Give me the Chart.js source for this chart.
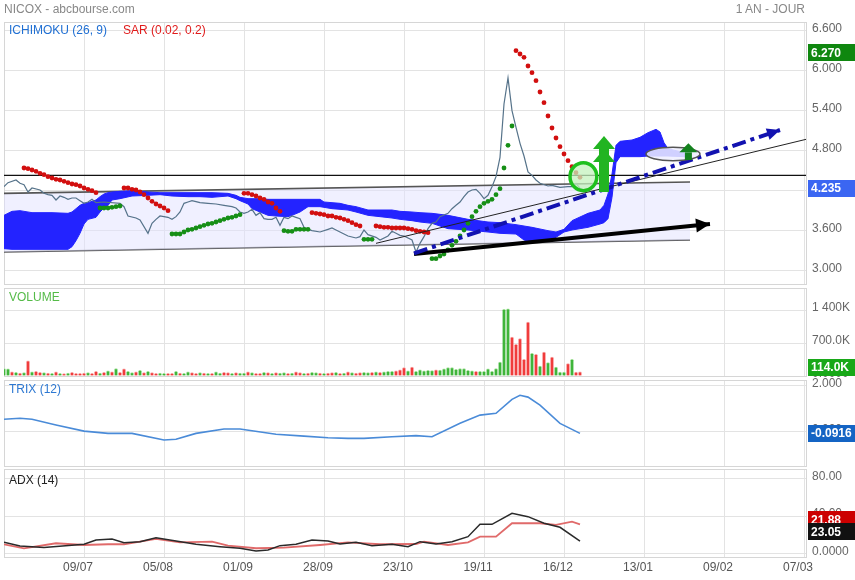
<!DOCTYPE html>
<html>
<head>
<meta charset="utf-8">
<script src="https://cdn.jsdelivr.net/npm/chart.js@4.4.1/dist/chart.umd.min.js"></script>
<style>
  html, body { margin: 0; padding: 0; background: #fff; }
  #wrap { position: relative; width: 855px; height: 580px; overflow: hidden;
    font-family: "Liberation Sans", Arial, sans-serif; font-size: 12px; }
  #wrap canvas { position: absolute; left: 0; top: 0; }
  .lbl { position: absolute; white-space: nowrap; line-height: 14px; }
</style>
</head>
<body>
<div id="wrap">
  <canvas id="c-main" width="855" height="580"></canvas>
  <canvas id="c-vol" width="855" height="580"></canvas>
  <canvas id="c-trix" width="855" height="580"></canvas>
  <canvas id="c-adx" width="855" height="580"></canvas>
  <div class="lbl" style="left:4px;top:2px;color:#888">NICOX - abcbourse.com</div>
  <div class="lbl" style="right:50px;top:2px;color:#888">1 AN - JOUR</div>
  <div class="lbl" style="left:9px;top:23px;color:#1f6fd3">ICHIMOKU (26, 9)</div>
  <div class="lbl" style="left:123px;top:23px;color:#e01b1b">SAR (0.02, 0.2)</div>
  <div class="lbl" style="left:9px;top:290px;color:#55bb48">VOLUME</div>
  <div class="lbl" style="left:9px;top:382px;color:#2d78d2">TRIX (12)</div>
  <div class="lbl" style="left:9px;top:473px;color:#222">ADX (14)</div>
</div>
<script>
// x axis = trading day index (0 = first day shown, 20 days between date ticks)
const xTickDays = [20, 40, 60, 80, 100, 120, 140, 160, 180, 200];
const xTickLabels = ['09/07', '05/08', '01/09', '28/09', '23/10', '19/11', '16/12', '13/01', '09/02', '07/03'];

// closing price (vertices of the line)
const priceDays = [0, 1, 3, 4, 5, 6, 7, 9, 10, 11, 12, 13, 14, 15, 16, 17, 18, 19, 20, 21, 22, 23, 25, 29, 30, 31, 33, 34, 36, 37,
  38, 39, 41, 42, 43, 44, 45, 46, 47, 49, 51, 53, 55, 57, 58, 59, 60, 61, 62, 63, 64, 65, 66, 67, 68, 69, 70, 71, 72, 73,
  74, 75, 76, 77, 79, 81, 82, 83, 85, 86, 88, 89, 90, 91, 93, 94, 96, 97, 98, 99, 100, 102, 103, 104, 105, 106, 107, 108, 109, 111,
  112, 113, 114, 115, 116, 117, 118, 119, 120, 121, 122, 123, 124, 125, 126, 127, 128, 129, 130, 131, 132, 133, 134, 136, 137, 139, 141, 142, 143, 144];
const priceVals = [4.26, 4.32, 4.36, 4.31, 4.29, 4.18, 4.24, 4.21, 4.16, 4.14, 4.13, 4.06, 4.12, 4.10, 4.07, 4.09, 4.09, 4.05, 4.01, 4.03, 4.07, 4.02, 4.03, 4.01, 3.96, 3.82, 3.79, 3.76, 3.56, 3.71,
  3.77, 3.82, 3.80, 3.77, 3.81, 3.88, 4.01, 4.03, 4.05, 4.02, 4.01, 4.00, 3.98, 3.96, 3.94, 3.88, 3.86, 3.88, 3.92, 3.83, 3.87, 3.78, 3.77, 3.77, 3.80, 3.68, 3.80, 3.78, 3.82, 3.80,
  3.78, 3.65, 3.62, 3.60, 3.58, 3.62, 3.64, 3.61, 3.55, 3.52, 3.49, 3.51, 3.61, 3.54, 3.50, 3.46, 3.52, 3.59, 3.56, 3.53, 3.52, 3.46, 3.28, 3.41, 3.51, 3.63, 3.71, 3.73, 3.81, 3.86,
  3.93, 3.98, 4.03, 4.11, 4.18, 4.21, 4.22, 4.16, 4.08, 4.13, 4.26, 4.41, 4.70, 5.50, 5.89, 5.40, 5.15, 4.91, 4.72, 4.48, 4.43, 4.36, 4.31, 4.27, 4.28, 4.25, 4.26, 4.26, 4.31, 4.235];

// parabolic SAR: runs of consecutive days, alternating above (red) / below (green)
const sarStarts = [5, 24, 30, 42, 60, 70, 77, 90, 93, 107, 128];
const sarRuns = [
  [4.54, 4.53, 4.51, 4.49, 4.46, 4.44, 4.41, 4.39, 4.37, 4.36, 4.34, 4.32, 4.30, 4.29, 4.27, 4.24, 4.22, 4.20, 4.17],
  [3.94, 3.94, 3.94, 3.95, 3.96, 3.97],
  [4.24, 4.24, 4.22, 4.21, 4.18, 4.14, 4.09, 4.04, 4.00, 3.97, 3.94, 3.90],
  [3.55, 3.55, 3.55, 3.58, 3.61, 3.62, 3.64, 3.66, 3.68, 3.70, 3.71, 3.73, 3.75, 3.77, 3.79, 3.80, 3.82, 3.84],
  [4.16, 4.16, 4.14, 4.12, 4.09, 4.07, 4.03, 4.01, 3.94, 3.89],
  [3.60, 3.59, 3.59, 3.62, 3.62, 3.62, 3.62],
  [3.87, 3.86, 3.85, 3.84, 3.82, 3.82, 3.80, 3.79, 3.77, 3.75, 3.72, 3.69, 3.67],
  [3.47, 3.47, 3.47],
  [3.67, 3.66, 3.65, 3.65, 3.64, 3.64, 3.64, 3.64, 3.63, 3.62, 3.60, 3.59, 3.58, 3.57],
  [3.18, 3.18, 3.22, 3.25, 3.31, 3.38, 3.44, 3.52, 3.61, 3.71, 3.81, 3.89, 3.96, 4.01, 4.04, 4.07, 4.14, 4.23, 4.54, 4.88, 5.17],
  [6.30, 6.25, 6.20, 6.07, 5.97, 5.85, 5.68, 5.52, 5.32, 5.14, 4.99, 4.86, 4.75, 4.65, 4.56, 4.47, 4.40]
];

// ichimoku cloud (senkou spans, shifted 26 days ahead)
const cloudDays = [0, 2, 4, 7, 12, 16, 17, 18, 19, 20, 21, 23, 24, 25, 26, 27, 29, 32, 36, 39, 42, 46, 49, 52, 56, 58, 59, 61, 62, 64,
  66, 68, 71, 72, 74, 76, 79, 80, 82, 84, 86, 88, 91, 94, 97, 99, 102, 104, 107, 111, 116, 121, 124, 128, 130, 132, 136, 138, 140, 142,
  146, 149, 150, 151, 152, 153, 154, 157, 159, 161, 163, 164, 165, 166, 170, 171];
const spanA = [3.83, 3.89, 3.90, 3.87, 3.87, 3.86, 3.88, 3.93, 3.98, 4.01, 4.02, 4.06, 4.11, 4.15, 4.17, 4.18, 4.19, 4.20, 4.18, 4.17, 4.17, 4.17, 4.17, 4.17, 4.16, 4.13, 4.10, 4.08, 4.08, 4.08,
  4.07, 4.07, 4.07, 4.07, 4.07, 4.07, 4.07, 4.03, 4.02, 4.01, 3.98, 3.96, 3.91, 3.91, 3.91, 3.89, 3.88, 3.87, 3.86, 3.83, 3.77, 3.73, 3.72, 3.69, 3.67, 3.65, 3.60, 3.58, 3.62, 3.75,
  3.86, 3.91, 3.98, 4.15, 4.45, 4.88, 4.94, 4.96, 5.00, 5.07, 5.12, 5.08, 4.92, 4.83, 4.77, 4.72];
const spanB = [3.33, 3.32, 3.32, 3.32, 3.32, 3.32, 3.36, 3.45, 3.56, 3.70, 3.77, 3.80, 3.88, 3.94, 3.98, 4.06, 4.08, 4.12, 4.13, 4.14, 4.12, 4.11, 4.11, 4.10, 4.12, 4.08, 4.05, 4.00, 3.93, 3.88,
  3.83, 3.82, 3.81, 3.83, 3.88, 3.96, 3.96, 3.95, 3.93, 3.92, 3.91, 3.88, 3.83, 3.81, 3.79, 3.77, 3.75, 3.73, 3.71, 3.63, 3.61, 3.58, 3.56, 3.55, 3.46, 3.43, 3.44, 3.50, 3.58, 3.61,
  3.65, 3.70, 3.72, 3.78, 4.10, 4.62, 4.71, 4.71, 4.71, 4.72, 4.72, 4.72, 4.72, 4.72, 4.71, 4.70];

// hand drawn lines on the price panel: [day, price]
const channelTop = [[0, 4.16], [171.5, 4.33]];
const channelBottom = [[0, 3.28], [171.5, 3.46]];
const resistance = [[0, 4.43], [200.5, 4.43]];
const thinTrend = [[93, 3.41], [200.5, 4.97]];
const blueTrend = [[102.5, 3.26], [194, 5.11]];
const blackTrend = [[102.5, 3.25], [176.5, 3.70]];
const ovals = [[141.5, 148.2, 4.20, 4.62], [160.5, 174, 4.65, 4.85]]; // day from, day to, price low, price high
const upArrows = [[150, 4.18, 5.02], [171.1, 4.66, 4.91]];           // day, base price, tip price

// volume in thousands, G = up day, R = down day
const volume = [160, 150, 90, 80, 60, 70, 320, 90, 100, 80, 70, 60, 55, 90, 55, 50, 60, 80, 55, 55,
  60, 70, 55, 100, 60, 80, 110, 90, 160, 80, 150, 100, 70, 90, 120, 70, 100, 70, 55, 60,
  55, 55, 55, 100, 60, 55, 90, 70, 55, 70, 60, 55, 55, 90, 60, 80, 70, 55, 70, 60,
  60, 90, 70, 55, 55, 80, 70, 55, 70, 60, 70, 55, 60, 90, 70, 55, 60, 80, 70, 60,
  55, 60, 70, 80, 55, 60, 90, 70, 60, 70, 80, 70, 80, 90, 80, 90, 100, 100, 110, 130,
  180, 110, 190, 100, 130, 110, 120, 115, 130, 125, 150, 180, 180, 140, 160, 160, 120, 110, 100, 100,
  100, 150, 100, 160, 297, 1413, 1427, 827, 672, 792, 353, 1145, 481, 460, 212, 509, 283, 403, 191, 85,
  85, 261, 353, 85, 90];
const volSide = 'GGRGRGRGRRGRGRGRGRRR' + 'RGRRGRGRGRRGGRGRGRRG' + 'GRRGRGGRRGRGRGGRRGRG' + 'GRGRRGRGRGGRGRRGRGGR' +
  'GRRGRGRGRRGGRGRGGGRR' + 'RGRGGGGGRGGGGGGGGGRG' + 'GGGGGGGRRRRRGRGRGRGG' + 'GRGRR';

const trixDays = [0, 4, 7, 13, 20, 26, 32, 40, 43, 48, 55, 59, 68, 75, 81, 86, 90, 97, 103, 107, 114, 119, 123, 127, 129, 131, 134, 139, 144];
const trixVals = [0.53, 0.57, 0.53, 0.28, 0.01, -0.09, -0.09, -0.38, -0.35, -0.09, 0.10, 0.10, -0.13, -0.21, -0.28, -0.31, -0.31, -0.24, -0.19, -0.24,
  0.35, 0.71, 0.79, 1.40, 1.58, 1.50, 1.15, 0.35, -0.09];

const adxDays = [0, 4, 10, 20, 23, 27, 30, 34, 38, 43, 48, 54, 59, 63, 66, 69, 73, 77, 81, 84, 88, 92, 97, 101, 104, 108, 112, 116, 119, 122, 127, 131, 135, 139, 144];
const adxVals = [11.8, 7.9, 6.1, 9.7, 14.3, 15.4, 11.4, 12.5, 16.8, 13.2, 9.7, 7.1, 5.4, 2.5, 3.6, 8.2, 9.7, 14.3, 13.2, 10.0,
  11.8, 8.2, 9.7, 7.1, 12.5, 10.0, 12.5, 17.9, 31.2, 31.2, 43.0, 39.4, 32.3, 28.0, 13.2];
const adxRedDays = [0, 5, 13, 20, 26, 30, 38, 44, 52, 56, 63, 70, 79, 86, 94, 103, 105, 111, 116, 119, 123, 127, 134, 138, 142, 144];
const adxRedVals = [9.7, 5.4, 10.8, 8.9, 9.7, 9.7, 15.4, 11.8, 12.5, 8.2, 5.4, 6.0, 8.9, 11.8, 9.7, 10.0, 12.5, 8.9, 11.8, 17.9,
  17.9, 32.3, 32.3, 30.5, 34.0, 31.2];

const mainTicks = [3.0, 3.6, 4.2, 4.8, 5.4, 6.0, 6.6];
const volTicks = [0, 700, 1400];
const volTickLabels = ['0.0000', '700.0K', '1 400K'];
const trixTicks = [0, 2];
const adxTicks = [0, 40, 80];
const adxTickLabels = ['0.0000', '40.00', '80.00'];

Chart.defaults.font.family = '"Liberation Sans", Arial, sans-serif';
Chart.defaults.font.size = 12;
Chart.defaults.color = '#666';

const W = 855, H = 580;
const GRID = '#e3e3e3';

function pts(xs, ys) {
  return xs.map((x, i) => ({ x: x, y: ys[i] }));
}
function pairs(arr) {
  return arr.map(p => ({ x: p[0], y: p[1] }));
}

const framePlugin = {
  id: 'frame',
  beforeDatasetsDraw(chart) {
    const { ctx, chartArea: a } = chart;
    ctx.save();
    ctx.strokeStyle = '#d6d6d6';
    ctx.lineWidth = 1;
    ctx.strokeRect(Math.round(a.left) + 0.5, Math.round(a.top) + 0.5, Math.round(a.right - a.left), Math.round(a.bottom - a.top));
    ctx.restore();
  }
};

// coloured last-value boxes on the right axis; later boxes partly cover earlier ones
function valueBoxes(items) {
  return {
    id: 'valueBoxes',
    afterDraw(chart) {
      const ctx = chart.ctx, a = chart.chartArea, sy = chart.scales.y;
      const ys = items.map(b => Math.min(Math.max(sy.getPixelForValue(b.value), a.top + 9), a.bottom - 9));
      for (let i = ys.length - 2; i >= 0; i--) {
        if (ys[i] > ys[i + 1] - 12) ys[i] = ys[i + 1] - 12;
      }
      ctx.save();
      ctx.font = 'bold 12px "Liberation Sans", Arial, sans-serif';
      ctx.textBaseline = 'middle';
      items.forEach((b, i) => {
        ctx.fillStyle = b.bg;
        ctx.fillRect(a.right + 2, Math.round(ys[i] - 8.5), W - a.right - 2, 17);
        ctx.fillStyle = '#fff';
        ctx.fillText(b.text, a.right + 5, Math.round(ys[i]) + 0.5);
      });
      ctx.restore();
    }
  };
}

// arrow heads, ovals and the green up arrows on the price panel
const markupPlugin = {
  id: 'markup',
  afterDatasetsDraw(chart) {
    const ctx = chart.ctx, sx = chart.scales.x, sy = chart.scales.y;
    ctx.save();
    chart.data.datasets.forEach((ds, k) => {
      if (!ds.arrow) return;
      const p = chart.getDatasetMeta(k).data;
      const a = p[p.length - 2], b = p[p.length - 1];
      const ang = Math.atan2(b.y - a.y, b.x - a.x);
      const L = ds.arrow[0], w = ds.arrow[1];
      const bx = b.x - L * Math.cos(ang), by = b.y - L * Math.sin(ang);
      ctx.fillStyle = ds.borderColor;
      ctx.beginPath();
      ctx.moveTo(b.x, b.y);
      ctx.lineTo(bx + w * Math.sin(ang), by - w * Math.cos(ang));
      ctx.lineTo(bx - w * Math.sin(ang), by + w * Math.cos(ang));
      ctx.closePath();
      ctx.fill();
    });

    const ovalStyle = [
      { stroke: '#1ec01e', fill: 'rgba(196,242,190,0.75)', width: 3.5 },
      { stroke: '#555', fill: 'rgba(238,238,255,0.85)', width: 1.5 }
    ];
    ovals.forEach((o, i) => {
      const x1 = sx.getPixelForValue(o[0]), x2 = sx.getPixelForValue(o[1]);
      const y1 = sy.getPixelForValue(o[3]), y2 = sy.getPixelForValue(o[2]);
      ctx.beginPath();
      ctx.ellipse((x1 + x2) / 2, (y1 + y2) / 2, (x2 - x1) / 2, (y2 - y1) / 2, 0, 0, Math.PI * 2);
      ctx.fillStyle = ovalStyle[i].fill;
      ctx.fill();
      ctx.lineWidth = ovalStyle[i].width;
      ctx.strokeStyle = ovalStyle[i].stroke;
      ctx.stroke();
    });

    const arrowStyle = [
      { color: '#22b422', headW: 11, headH: 13, shaft: 5, heads: 2 },
      { color: '#14821e', headW: 9, headH: 9, shaft: 3.5, heads: 1 }
    ];
    upArrows.forEach((u, i) => {
      const s = arrowStyle[i];
      const x = sx.getPixelForValue(u[0]);
      const yb = sy.getPixelForValue(u[1]), yt = sy.getPixelForValue(u[2]);
      ctx.fillStyle = s.color;
      ctx.fillRect(x - s.shaft, yt + s.headH, s.shaft * 2, yb - yt - s.headH);
      for (let h = 0; h < s.heads; h++) {
        const top = yt + h * s.headH;
        ctx.beginPath();
        ctx.moveTo(x, top);
        ctx.lineTo(x + s.headW, top + s.headH);
        ctx.lineTo(x - s.headW, top + s.headH);
        ctx.closePath();
        ctx.fill();
      }
    });
    ctx.restore();
  }
};

function panelOptions(top, bottom, yMin, yMax, yTicks, yLabel, showX) {
  return {
    responsive: false,
    animation: false,
    events: [],
    layout: { padding: { top: top, bottom: H - bottom - (showX ? 20 : 0), left: 4, right: 0 } },
    plugins: { legend: { display: false }, tooltip: { enabled: false } },
    scales: {
      x: {
        type: 'linear', min: 0, max: 200.5, offset: false,
        afterBuildTicks: s => { s.ticks = xTickDays.map(v => ({ value: v })); },
        afterFit: s => { s.height = showX ? 20 : 0; },
        grid: { color: GRID, drawTicks: false, offset: false },
        border: { display: false },
        ticks: {
          display: showX, autoSkip: false, maxRotation: 0, padding: 3, labelOffset: -6, color: '#555',
          callback: v => xTickLabels[xTickDays.indexOf(v)]
        }
      },
      y: {
        position: 'right', min: yMin, max: yMax,
        afterBuildTicks: s => { s.ticks = yTicks.map(v => ({ value: v })); },
        afterFit: s => { s.width = 49; },
        grid: { color: GRID, drawTicks: false },
        border: { display: false },
        ticks: { autoSkip: false, padding: 6, labelOffset: -2, color: '#666', callback: yLabel }
      }
    }
  };
}

const sarRed = [], sarGreen = [];
sarStarts.forEach((start, r) => {
  sarRuns[r].forEach((v, k) => {
    (r % 2 === 0 ? sarRed : sarGreen).push({ x: start + k, y: v });
  });
});

const lineBase = { pointRadius: 0, borderCapStyle: 'butt', tension: 0 };

new Chart(document.getElementById('c-main'), {
  type: 'line',
  data: {
    datasets: [
      Object.assign({ data: pairs(blueTrend), borderColor: '#1212b0', borderWidth: 4, borderDash: [14, 5, 4, 5], order: 0, arrow: [13, 6] }, lineBase),
      Object.assign({ data: pairs(blackTrend), borderColor: '#000', borderWidth: 4, order: 0, arrow: [14, 7] }, lineBase),
      Object.assign({ data: pairs(thinTrend), borderColor: '#222', borderWidth: 1, order: 1 }, lineBase),
      { data: sarRed, showLine: false, pointRadius: 2.4, pointBorderWidth: 0, pointBackgroundColor: '#d20f0f', order: 2 },
      { data: sarGreen, showLine: false, pointRadius: 2.4, pointBorderWidth: 0, pointBackgroundColor: '#168f16', order: 2 },
      Object.assign({ data: pts(priceDays, priceVals), borderColor: '#56738a', borderWidth: 1.2, order: 3 }, lineBase),
      Object.assign({ data: pairs(resistance), borderColor: '#111', borderWidth: 1.2, order: 4 }, lineBase),
      Object.assign({ data: pts(cloudDays, spanA), borderColor: '#2323ff', borderWidth: 1, backgroundColor: '#2323ff', fill: '+1', order: 5 }, lineBase),
      Object.assign({ data: pts(cloudDays, spanB), borderColor: '#2323ff', borderWidth: 1, order: 5 }, lineBase),
      Object.assign({ data: pairs(channelTop), borderColor: '#555', borderWidth: 1.6, backgroundColor: 'rgba(226,226,255,0.5)', fill: '+1', order: 6 }, lineBase),
      Object.assign({ data: pairs(channelBottom), borderColor: '#555', borderWidth: 1.6, order: 6 }, lineBase)
    ]
  },
  options: panelOptions(22, 284, 2.8, 6.73, mainTicks, v => v.toFixed(3), false),
  plugins: [framePlugin, markupPlugin, valueBoxes([
    { value: 6.27, text: '6.270', bg: '#0f870f' },
    { value: 4.235, text: '4.235', bg: '#3b66f2' }
  ])]
});

new Chart(document.getElementById('c-vol'), {
  type: 'bar',
  data: {
    datasets: [{
      data: volume.map((v, i) => ({ x: i, y: v })),
      backgroundColor: volume.map((v, i) => volSide[i] === 'G' ? '#3fb53a' : '#f03c3c'),
      borderColor: volume.map((v, i) => volSide[i] === 'G' ? '#a6e29c' : '#f8a8a8'),
      borderWidth: { top: 1, left: 0, right: 0, bottom: 0 },
      borderSkipped: false,
      barThickness: 3
    }]
  },
  options: panelOptions(288, 376, 0, 1867, volTicks, (v, i) => volTickLabels[i], false),
  plugins: [framePlugin, valueBoxes([{ value: 114, text: '114.0K', bg: '#18a818' }])]
});

new Chart(document.getElementById('c-trix'), {
  type: 'line',
  data: {
    datasets: [Object.assign({ data: pts(trixDays, trixVals), borderColor: '#4a8bd8', borderWidth: 1.6 }, lineBase)]
  },
  options: panelOptions(380, 466, -1.52, 2.25, trixTicks, v => v.toFixed(3), false),
  plugins: [framePlugin, valueBoxes([{ value: -0.0916, text: '-0.0916', bg: '#1464c4' }])]
});

new Chart(document.getElementById('c-adx'), {
  type: 'line',
  data: {
    datasets: [
      Object.assign({ data: pts(adxDays, adxVals), borderColor: '#2a2a2a', borderWidth: 1.5 }, lineBase),
      Object.assign({ data: pts(adxRedDays, adxRedVals), borderColor: '#e06a6a', borderWidth: 1.8 }, lineBase)
    ]
  },
  options: panelOptions(469, 557, -4, 90.7, adxTicks, (v, i) => adxTickLabels[i], true),
  plugins: [framePlugin, valueBoxes([
    { value: 21.88, text: '21.88', bg: '#cc0000' },
    { value: 23.05, text: '23.05', bg: '#111' }
  ])]
});
</script>
</body>
</html>
